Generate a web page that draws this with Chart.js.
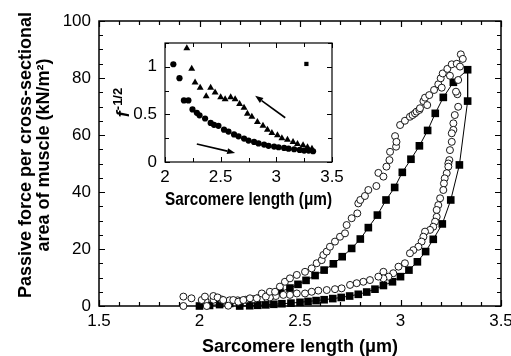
<!DOCTYPE html>
<html><head><meta charset="utf-8">
<script src="https://cdn.jsdelivr.net/npm/chart.js@4/dist/chart.umd.min.js"></script>
<style>
html,body{margin:0;padding:0;background:#fff;}
#wrap{position:relative;width:511px;height:356px;overflow:hidden;}
#main{position:absolute;left:0;top:0;}
#inset{position:absolute;left:110px;top:35px;}
</style></head><body>
<div id="wrap"><canvas id="main" width="511" height="356"></canvas><canvas id="inset" width="250" height="180"></canvas></div>
<script>
// ---------- DATA ----------
// Main panel: open circles, stretch (upper branch)
const stretchX = [1.92,1.92,1.96,2.011,2.027,2.036,2.069,2.09,2.118,2.143,2.168,2.193,2.218,2.251,2.285,2.31,2.33,2.35,2.376,2.40,2.425,2.45,2.484,2.525,2.558,2.583,2.608,2.616,2.633,2.649,2.674,2.699,2.724,2.732,2.757,2.785,2.79,2.80,2.823,2.84,2.88,2.89,2.915,2.93,2.945,2.948,2.973,2.978,2.98,2.998,3.022,3.047,3.06,3.072,3.08,3.094,3.097,3.114,3.122,3.133,3.143,3.167,3.188,3.2,3.205,3.21,3.233,3.246,3.255,3.28,3.296,3.30,3.31];
const stretchY = [3.3,0.0,2.7,2.1,3.3,0.0,3.5,3.0,2.1,0.1,2.1,1.5,2.1,2.7,2.7,4.4,3.3,5.0,5.0,6.8,8.5,9.7,10.9,12.0,13.2,15.0,16.1,17.9,19.1,20.8,22.6,24.3,25.5,28.4,30.8,32.5,36.0,37.2,38.6,40.7,42.1,46.7,45.4,48.9,51.2,54.1,59.6,55.9,57.6,63.5,65.0,66.4,67.0,67.6,68.2,68.8,69.4,71.9,73.1,70.5,74.0,75.8,77.8,79.9,76.6,81.6,83.2,80.8,84.8,85.0,84.0,88.3,86.7];
// Main panel: open circles, release (lower branch)
const releaseX = [3.283,3.287,3.276,3.287,3.27,3.263,3.263,3.255,3.255,3.246,3.243,3.238,3.238,3.23,3.22,3.216,3.213,3.197,3.188,3.18,3.18,3.172,3.163,3.147,3.122,3.114,3.105,3.089,3.064,3.047,3.022,2.99,2.964,2.94,2.915,2.915,2.89,2.848,2.815,2.782,2.749,2.707,2.674,2.633,2.591,2.558,2.525,2.484,2.45,2.417,2.38,2.35,2.31,2.27,2.23,2.19,2.15,2.11,2.07,2.03];
const releaseY = [74.3,79.3,75.2,69.9,67.0,64.1,61.8,60.6,57.6,54.7,51.2,50.0,48.9,46.6,44.8,43.0,40.7,37.8,35.4,33.7,31.3,29.6,27.8,26.7,26.1,24.3,22.6,20.8,19.6,18.5,15.0,13.8,11.5,10.3,12.0,9.7,10.3,9.1,8.5,8.0,7.4,6.2,5.9,5.6,5.4,5.0,4.4,4.4,3.9,3.9,3.5,3.0,2.7,2.4,2.2,2.0,2.0,2.3,2.2,1.8];
// Main panel: model (filled squares joined by a line)
const modelX = [2.00,2.05,2.10,2.15,2.20,2.25,2.30,2.35,2.40,2.45,2.49,2.53,2.575,2.62,2.666,2.71,2.757,2.80,2.84,2.885,2.928,2.971,3.009,3.052,3.094,3.135,3.173,3.213,3.263,3.334,3.334,3.293,3.25,3.208,3.163,3.125,3.084,3.042,3.0,2.96,2.915,2.873,2.832,2.79,2.747,2.705,2.663,2.62,2.58,2.54,2.50,2.455,2.41,2.37,2.33,2.29,2.25,2.20];
const modelY = [0.0,0.2,0.5,0.9,1.4,2.0,2.7,3.6,4.9,6.3,7.6,9.0,10.7,12.6,14.8,17.3,20.2,23.5,27.5,31.9,37.2,41.6,46.9,51.5,56.2,61.6,67.6,73.2,78.5,82.9,71.9,49.5,37.2,28.8,23.4,19.1,15.5,12.6,10.3,8.5,7.2,5.9,4.9,4.1,3.5,3.0,2.6,2.2,1.9,1.6,1.3,1.0,0.8,0.6,0.4,0.25,0.1,0.0];
const mainXTicks = [1.5,2,2.5,3,3.5];
const mainYTicks = [0,20,40,60,80,100];

// Inset: f^-1/2 vs sarcomere length
const insetCircX = [2.075,2.13,2.17,2.21,2.247,2.286,2.31,2.36,2.41,2.44,2.48,2.53,2.57,2.62,2.66,2.71,2.75,2.80,2.84,2.89,2.93,2.98,3.02,3.07,3.11,3.16,3.21,3.25,3.29,3.33];
const insetCircY = [1.027,0.88,0.647,0.647,0.552,0.517,0.49,0.457,0.41,0.39,0.38,0.34,0.32,0.29,0.27,0.246,0.225,0.211,0.195,0.183,0.17,0.162,0.155,0.148,0.14,0.134,0.127,0.12,0.12,0.113];
const insetTriX = [2.196,2.24,2.27,2.316,2.37,2.41,2.45,2.50,2.54,2.59,2.63,2.67,2.71,2.74,2.78,2.83,2.88,2.92,2.96,3.01,3.05,3.10,3.15,3.19,3.24,3.28,3.32];
const insetTriY = [1.196,0.98,0.834,0.78,0.69,0.78,0.73,0.68,0.66,0.68,0.66,0.61,0.57,0.507,0.475,0.42,0.38,0.34,0.305,0.28,0.25,0.235,0.21,0.19,0.175,0.155,0.14];
const insetSqX = [3.27];
const insetSqY = [1.03];
const insetXTicks = [2,2.5,3,3.5];
const insetYTicks = [0,0.5,1];
// arrows in data coords: [x0,y0,x1,y1] (tail -> head)
const arrowUp = [3.08,0.465,2.81,0.695];
const arrowDown = [2.286,0.19,2.63,0.095];

// ---------- HELPERS ----------
const FONT = "'Liberation Sans', Arial, Helvetica, sans-serif";
const pts = (xs, ys) => xs.map((x, i) => ({x, y: ys[i]}));

const framePlugin = {
  id: 'frameTicks',
  beforeDatasetsDraw(chart, args, o) {
    const {ctx, chartArea: a, scales: {x, y}} = chart;
    ctx.save();
    ctx.strokeStyle = '#000';
    ctx.lineWidth = o.lw;
    ctx.strokeRect(a.left, a.top, a.right - a.left, a.bottom - a.top);
    ctx.lineWidth = o.tw;
    ctx.beginPath();
    const isMaj = (v, s) => Math.abs(v / s - Math.round(v / s)) < 1e-6;
    const nx = Math.round((x.max - x.min) / o.xMinor);
    for (let i = 0; i <= nx; i++) {
      const v = x.min + i * o.xMinor;
      const p = Math.round(x.getPixelForValue(v)) + 0.5;
      const L = isMaj(v, o.xMajor) ? o.major : o.minor;
      ctx.moveTo(p, a.bottom); ctx.lineTo(p, a.bottom - L);
      ctx.moveTo(p, a.top); ctx.lineTo(p, a.top + L);
    }
    const ny = Math.round((y.max - y.min) / o.yMinor);
    for (let i = 0; i <= ny; i++) {
      const v = y.min + i * o.yMinor;
      const p = Math.round(y.getPixelForValue(v)) + 0.5;
      const L = isMaj(v, o.yMajor) ? o.major : o.minor;
      ctx.moveTo(a.left, p); ctx.lineTo(a.left + L, p);
      ctx.moveTo(a.right, p); ctx.lineTo(a.right - L, p);
    }
    ctx.stroke();
    ctx.restore();
  }
};

const mainYTitle = {
  id: 'mainYTitle',
  afterDraw(chart) {
    const ctx = chart.ctx;
    ctx.save();
    ctx.fillStyle = '#000';
    ctx.font = 'bold 18px ' + FONT;
    ctx.textAlign = 'center';
    ctx.textBaseline = 'middle';
    const cy = 155;
    [['Passive force per cross-sectional', 26], ['area of muscle (kN/m²)', 44]].forEach(([t, cx]) => {
      ctx.save(); ctx.translate(cx, cy); ctx.rotate(-Math.PI / 2); ctx.fillText(t, 0, 0); ctx.restore();
    });
    ctx.restore();
  }
};

const insetExtras = {
  id: 'insetExtras',
  afterDatasetsDraw(chart) {
    const {ctx, scales: {x, y}} = chart;
    ctx.save();
    ctx.strokeStyle = '#000'; ctx.fillStyle = '#000'; ctx.lineWidth = 1.6;
    [arrowUp, arrowDown].forEach(a => {
      const x0 = x.getPixelForValue(a[0]), y0 = y.getPixelForValue(a[1]);
      const x1 = x.getPixelForValue(a[2]), y1 = y.getPixelForValue(a[3]);
      const ang = Math.atan2(y1 - y0, x1 - x0);
      const hl = 8, hw = 3;
      const bx = x1 - hl * Math.cos(ang), by = y1 - hl * Math.sin(ang);
      ctx.beginPath(); ctx.moveTo(x0, y0); ctx.lineTo(bx, by); ctx.stroke();
      ctx.beginPath();
      ctx.moveTo(x1, y1);
      ctx.lineTo(bx + hw * Math.sin(ang), by - hw * Math.cos(ang));
      ctx.lineTo(bx - hw * Math.sin(ang), by + hw * Math.cos(ang));
      ctx.closePath(); ctx.fill();
    });
    ctx.restore();
  },
  afterDraw(chart) {
    const {ctx, chartArea: a} = chart;
    ctx.save();
    ctx.fillStyle = '#000';
    ctx.translate(13, (a.top + a.bottom) / 2);
    ctx.rotate(-Math.PI / 2);
    ctx.textBaseline = 'middle';
    const f = 'f', sup = '-1/2';
    ctx.font = 'italic bold 18px ' + FONT;
    const wf = ctx.measureText(f).width;
    ctx.font = 'bold 13px ' + FONT;
    const ws = ctx.measureText(sup).width;
    const start = -(wf + 1 + ws) / 2;
    ctx.textAlign = 'left';
    ctx.font = 'italic bold 18px ' + FONT;
    ctx.fillText(f, start, 1);
    ctx.font = 'bold 13px ' + FONT;
    ctx.fillText(sup, start + wf + 1, -5);
    ctx.restore();
  }
};

function fixX(h) { return s => { s.height = h; s.paddingLeft = 0; s.paddingRight = 0; }; }
function fixY(w) { return s => { s.width = w; s.paddingTop = 0; s.paddingBottom = 0; }; }
const setTicks = arr => s => { s.ticks = arr.map(v => ({value: v})); };
const tickFont = {family: FONT, size: 17};
const fmt = v => String(v);

// ---------- MAIN CHART ----------
new Chart(document.getElementById('main'), {
  type: 'scatter',
  data: {
    datasets: [
      {data: pts(stretchX, stretchY), pointStyle: 'circle', pointRadius: 3.5, backgroundColor: '#fff', borderColor: '#000', borderWidth: 0.9, showLine: false, clip: false},
      {data: pts(releaseX, releaseY), pointStyle: 'circle', pointRadius: 3.5, backgroundColor: '#fff', borderColor: '#000', borderWidth: 0.9, showLine: false, clip: false},
      {data: pts(modelX, modelY), pointStyle: 'rect', pointRadius: 5.4, pointBackgroundColor: '#000', pointBorderWidth: 0, borderColor: '#000', borderWidth: 1, showLine: true, tension: 0, clip: false}
    ]
  },
  options: {
    responsive: false, animation: false, devicePixelRatio: 1,
    layout: {padding: {left: 0, right: 10, top: 21, bottom: 0}},
    plugins: {legend: {display: false}, tooltip: {enabled: false}, frameTicks: {lw: 1.5, tw: 1.2, major: 6, minor: 4, xMinor: 0.1, xMajor: 0.5, yMinor: 5, yMajor: 20}},
    scales: {
      x: {type: 'linear', min: 1.5, max: 3.5, afterFit: fixX(50), afterBuildTicks: setTicks(mainXTicks),
          grid: {display: false, drawTicks: false}, border: {display: false},
          ticks: {font: tickFont, color: '#000', padding: 5, callback: fmt, maxRotation: 0, autoSkip: false},
          title: {display: true, text: 'Sarcomere length (μm)', color: '#000', font: {family: FONT, size: 18, weight: 'bold', lineHeight: 1}, padding: {top: 0, bottom: 0}}},
      y: {type: 'linear', min: 0, max: 100, afterFit: fixY(99), afterBuildTicks: setTicks(mainYTicks),
          grid: {display: false, drawTicks: false}, border: {display: false},
          ticks: {font: tickFont, color: '#000', padding: 8, callback: fmt, autoSkip: false}}
    }
  },
  plugins: [framePlugin, mainYTitle]
});

// ---------- INSET CHART ----------
new Chart(document.getElementById('inset'), {
  type: 'scatter',
  data: {
    datasets: [
      {data: pts(insetCircX, insetCircY), pointStyle: 'circle', pointRadius: 3.1, backgroundColor: '#000', borderColor: '#000', borderWidth: 0, showLine: false, clip: false},
      {data: pts(insetTriX, insetTriY), pointStyle: 'triangle', pointRadius: 4.0, backgroundColor: '#000', borderColor: '#000', borderWidth: 0, showLine: false, clip: false},
      {data: pts(insetSqX, insetSqY), pointStyle: 'rect', pointRadius: 3.0, backgroundColor: '#000', borderColor: '#000', borderWidth: 0, showLine: false, clip: false}
    ]
  },
  options: {
    responsive: false, animation: false, devicePixelRatio: 1,
    layout: {padding: {left: 0, right: 28, top: 8, bottom: 0}},
    plugins: {legend: {display: false}, tooltip: {enabled: false}, frameTicks: {lw: 1.2, tw: 1, major: 5, minor: 4, xMinor: 0.25, xMajor: 0.5, yMinor: 0.25, yMajor: 0.5}},
    scales: {
      x: {type: 'linear', min: 2, max: 3.5, afterFit: fixX(53), afterBuildTicks: setTicks(insetXTicks),
          grid: {display: false, drawTicks: false}, border: {display: false},
          ticks: {font: tickFont, color: '#000', padding: 5, callback: fmt, maxRotation: 0, autoSkip: false},
          title: {display: true, text: 'Sarcomere length (μm)', color: '#000', font: {family: FONT, size: 18, weight: 'bold', lineHeight: 1}, padding: {top: 0, bottom: 6}}},
      y: {type: 'linear', min: 0, max: 1.25, afterFit: fixY(55), afterBuildTicks: setTicks(insetYTicks),
          grid: {display: false, drawTicks: false}, border: {display: false},
          ticks: {font: tickFont, color: '#000', padding: 8, callback: fmt, autoSkip: false}}
    }
  },
  plugins: [framePlugin, insetExtras]
});
</script>
</body></html>
